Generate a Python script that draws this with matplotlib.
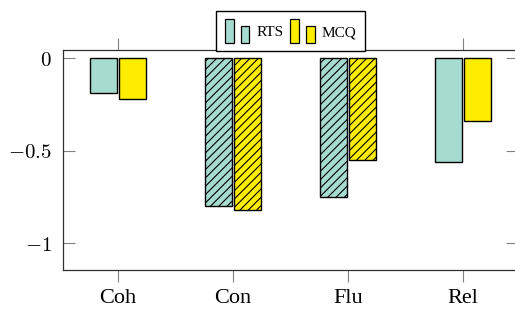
import matplotlib
matplotlib.use("Agg")
import matplotlib.pyplot as plt
from matplotlib.legend_handler import HandlerBase
from matplotlib.patches import Rectangle, Patch
import numpy as np

categories = ["Coh", "Con", "Flu", "Rel"]
rts = [-0.19, -0.80, -0.75, -0.56]
mcq = [-0.22, -0.82, -0.55, -0.34]
hatched = [False, True, True, False]
series_names = ["RTS", "MCQ"]
yticks = [-1, -0.5, 0]
ytick_labels = [r"$-1$", r"$-0.5$", r"$0$"]

teal = "#a6dbd0"
yellow = "#ffed00"

plt.rcParams["mathtext.fontset"] = "cm"
plt.rcParams["hatch.linewidth"] = 0.8

W, H = 515, 311
fig = plt.figure(figsize=(W / 100, H / 100), dpi=100)
ax = fig.add_axes([63 / W, 1 - 270 / H, (518 - 63) / W, (270 - 50) / H])

x = np.arange(len(categories))
bw = 0.235
off = 0.125
for i in range(len(categories)):
    h = "////" if hatched[i] else None
    ax.bar(x[i] - off, rts[i], bw, color=teal, edgecolor="black", linewidth=1.0, hatch=h)
    ax.bar(x[i] + off, mcq[i], bw, color=yellow, edgecolor="black", linewidth=1.0, hatch=h)

ax.set_xlim(-55 / 115, 3 + 55 / 115)
ax.set_ylim(-(270 - 58) / 185, (58 - 50) / 185)
ax.set_xticks(x)
ax.set_xticklabels(categories, fontsize=16, family="Liberation Serif")
ax.set_yticks(yticks)
ax.set_yticklabels(ytick_labels, fontsize=15)
ax.tick_params(axis="x", top=True, bottom=True, direction="out", length=8.5,
               width=0.8, color="#808080", pad=5)
ax.tick_params(axis="y", left=True, right=True, direction="in", length=8.5,
               width=0.8, color="#808080", pad=8)
for s in ax.spines.values():
    s.set_color("#303030")
    s.set_linewidth(0.9)


class TwoBars(HandlerBase):
    def create_artists(self, legend, orig_handle, xdescent, ydescent, width, height, fontsize, trans):
        fc = orig_handle.get_facecolor()
        x0, y0 = -xdescent, -ydescent
        r1 = Rectangle((x0, y0), width * 0.38, height, facecolor=fc, edgecolor="black",
                       linewidth=0.9, transform=trans)
        r2 = Rectangle((x0 + width * 0.66, y0), width * 0.34, height * 0.72, facecolor=fc,
                       edgecolor="black", linewidth=0.9, transform=trans)
        return [r1, r2]


handles = [Patch(facecolor=teal), Patch(facecolor=yellow)]
leg = fig.legend(handles, series_names, loc="upper center",
                 bbox_to_anchor=(290.5 / W, 1 - 11 / H), bbox_transform=fig.transFigure,
                 ncol=2, handler_map={Patch: TwoBars()},
                 prop={"family": "Liberation Serif", "size": 11},
                 handlelength=1.6, handleheight=2.0, handletextpad=0.45,
                 columnspacing=0.45, borderpad=0.55, borderaxespad=0,
                 fancybox=False, framealpha=1, edgecolor="black")
leg.get_frame().set_linewidth(1.0)

fig.savefig("out.png", dpi=100)
